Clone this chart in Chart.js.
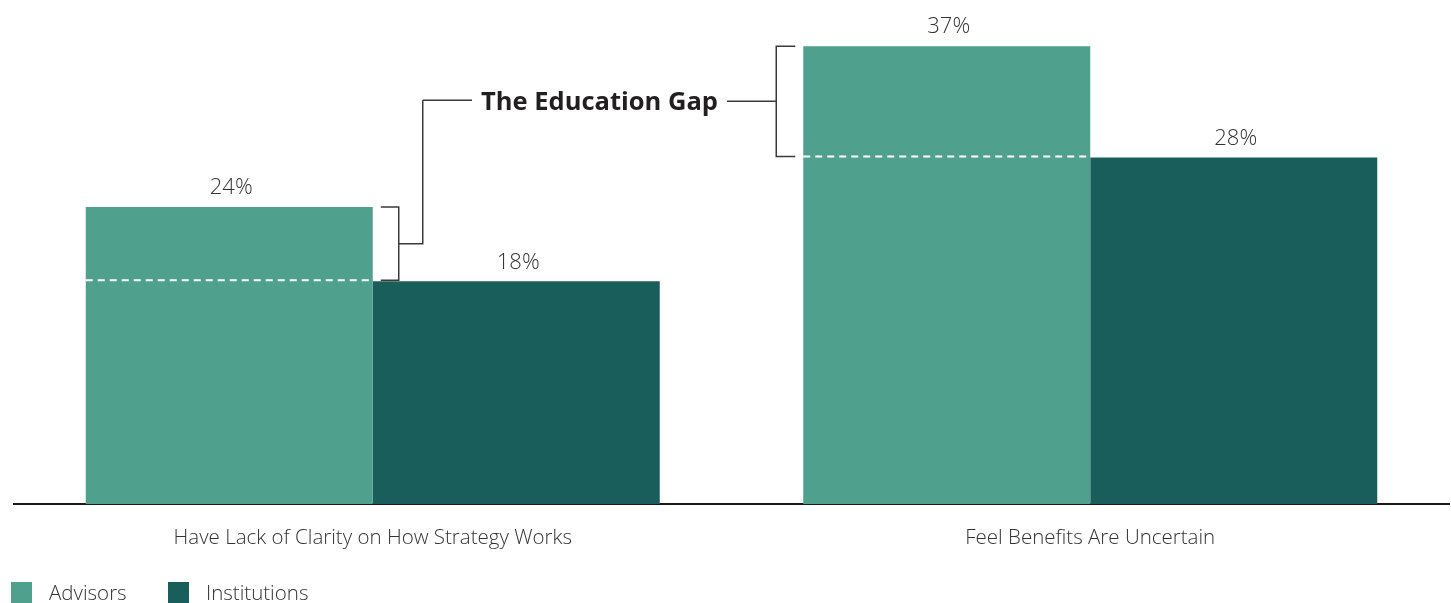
<!DOCTYPE html>
<html>
<head>
<meta charset="utf-8">
<script src="https://cdn.jsdelivr.net/npm/chart.js@4"></script>
<style>
  html, body { margin: 0; padding: 0; background: #fff; overflow: hidden; }
  #wrap { width: 1451px; height: 603px; position: relative; }
</style>
</head>
<body>
<div id="wrap"><canvas id="gapChart"></canvas></div>
<script>
const categories = ['Have Lack of Clarity on How Strategy Works', 'Feel Benefits Are Uncertain'];
const seriesNames = ['Advisors', 'Institutions'];
const advisorValues = [24, 37];
const institutionValues = [18, 28];
const seriesColors = ['#4fa08c', '#1a5e5c'];
const gapTitle = 'The Education Gap';

const FONT = '"Open Sans", "Noto Sans", sans-serif';
const TEXT_COLOR = '#333333';

// value labels, dashed gap lines, brackets and the legend
const gapPlugin = {
    id: 'gapPlugin',
    afterDatasetsDraw(chart) {
        const ctx = chart.ctx;
        const y = chart.scales.y;
        const advMeta = chart.getDatasetMeta(0);
        const instMeta = chart.getDatasetMeta(1);

        ctx.save();

        // value labels
        ctx.font = '300 22px ' + FONT;
        ctx.fillStyle = TEXT_COLOR;
        ctx.textAlign = 'center';
        ctx.textBaseline = 'middle';
        [advMeta, instMeta].forEach((meta, di) => {
            meta.data.forEach((bar, i) => {
                const v = chart.data.datasets[di].data[i];
                ctx.fillText(v + '%', bar.x + 2, bar.y - 19);
            });
        });

        // dashed line across the advisors bar at institutions level
        ctx.strokeStyle = '#ffffff';
        ctx.lineWidth = 2;
        ctx.setLineDash([7, 5]);
        advMeta.data.forEach((bar, i) => {
            const yy = y.getPixelForValue(institutionValues[i]) - 1;
            ctx.beginPath();
            ctx.moveTo(bar.x - bar.width / 2, yy);
            ctx.lineTo(bar.x + bar.width / 2, yy);
            ctx.stroke();
        });
        ctx.setLineDash([]);

        // brackets
        ctx.strokeStyle = '#3a3a3a';
        ctx.lineWidth = 1.5;

        const a0 = advMeta.data[0];
        const r0 = a0.x + a0.width / 2;
        const top0 = y.getPixelForValue(advisorValues[0]);
        const bot0 = y.getPixelForValue(institutionValues[0]) - 1;
        const mid0 = (top0 + bot0) / 2;

        const a1 = advMeta.data[1];
        const l1 = a1.x - a1.width / 2;
        const top1 = y.getPixelForValue(advisorValues[1]);
        const bot1 = y.getPixelForValue(institutionValues[1]) - 1;
        const mid1 = (top1 + bot1) / 2;

        const stemX = r0 + 50;
        const rightX = l1 - 27;

        ctx.beginPath();
        ctx.moveTo(r0 + 8, top0);
        ctx.lineTo(r0 + 26, top0);
        ctx.lineTo(r0 + 26, bot0);
        ctx.lineTo(r0 + 8, bot0);
        ctx.moveTo(r0 + 26, mid0);
        ctx.lineTo(stemX, mid0);
        ctx.lineTo(stemX, mid1 - 1);
        ctx.stroke();

        ctx.beginPath();
        ctx.moveTo(l1 - 8, top1);
        ctx.lineTo(rightX, top1);
        ctx.lineTo(rightX, bot1);
        ctx.lineTo(l1 - 8, bot1);
        ctx.stroke();

        // title between the connectors
        ctx.font = 'bold 25.5px ' + FONT;
        ctx.fillStyle = '#231f20';
        const titleX = (stemX + rightX) / 2;
        const tw = ctx.measureText(gapTitle).width;
        ctx.fillText(gapTitle, titleX, mid1 + 1);

        ctx.beginPath();
        ctx.moveTo(stemX, mid1 - 1);
        ctx.lineTo(titleX - tw / 2 - 9, mid1 - 1);
        ctx.moveTo(titleX + tw / 2 + 9, mid1);
        ctx.lineTo(rightX, mid1);
        ctx.stroke();

        // legend
        const legendX = [11, 168];
        ctx.font = '300 20.5px ' + FONT;
        ctx.textAlign = 'left';
        chart.data.datasets.forEach((ds, i) => {
            ctx.fillStyle = ds.backgroundColor;
            ctx.fillRect(legendX[i], 582, 21, 21);
            ctx.fillStyle = TEXT_COLOR;
            ctx.fillText(ds.label, legendX[i] + 38, 594);
        });

        ctx.restore();
    }
};

new Chart(document.getElementById('gapChart'), {
    type: 'bar',
    data: {
        labels: categories,
        datasets: [
            { label: seriesNames[0], data: advisorValues, backgroundColor: seriesColors[0] },
            { label: seriesNames[1], data: institutionValues, backgroundColor: seriesColors[1] }
        ]
    },
    options: {
        responsive: true,
        maintainAspectRatio: false,
        animation: false,
        layout: { padding: { top: 9, right: 2, left: 0, bottom: 0 } },
        datasets: { bar: { categoryPercentage: 0.8, barPercentage: 1.0, borderWidth: 0 } },
        plugins: {
            legend: { display: false },
            tooltip: { enabled: false }
        },
        scales: {
            x: {
                grid: { display: false, drawTicks: false },
                border: { display: true, color: '#1a1a1a', width: 2 },
                ticks: { color: TEXT_COLOR, font: { family: FONT, size: 20.5, weight: '300' }, padding: 22 },
                afterFit(scale) { scale.height = 99; }
            },
            y: {
                min: 0,
                max: 40,
                ticks: { display: false },
                grid: { display: false, drawTicks: false },
                border: { display: false },
                afterFit(scale) { scale.width = 14; }
            }
        }
    },
    plugins: [gapPlugin]
});
</script>
</body>
</html>
